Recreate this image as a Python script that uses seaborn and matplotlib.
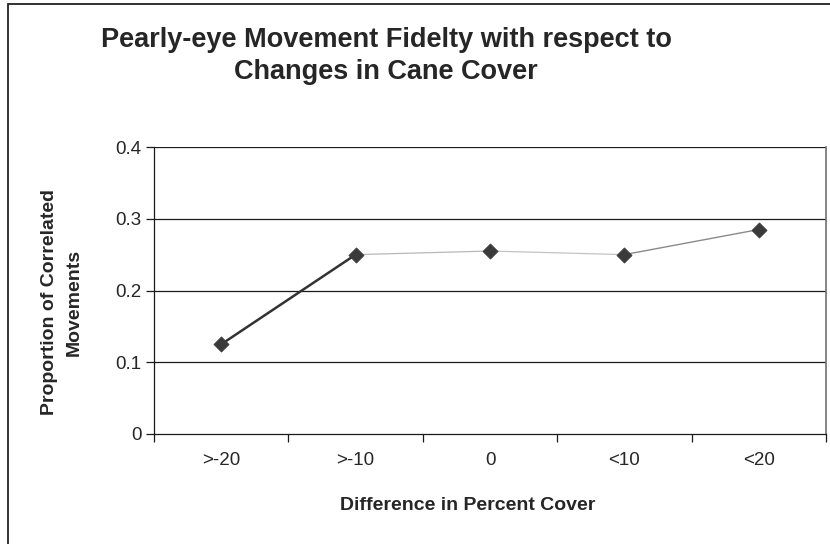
import matplotlib
matplotlib.use("Agg")
import matplotlib.pyplot as plt
from matplotlib.patches import Rectangle
import seaborn as sns
import pandas as pd

# Data
categories = [">-20", ">-10", "0", "<10", "<20"]
proportions = [0.125, 0.25, 0.255, 0.25, 0.285]
y_ticks = [0, 0.1, 0.2, 0.3, 0.4]

df = pd.DataFrame({"pos": range(len(categories)),
                   "cover": categories,
                   "prop": proportions})

sns.set_theme(style="white")
plt.rcParams["font.family"] = ["Liberation Sans", "DejaVu Sans"]

fig = plt.figure(figsize=(8.3, 5.44), dpi=100)
ax = fig.add_axes([154 / 830, 1 - 434 / 544, (826 - 154) / 830, (434 - 147) / 544])

# horizontal gridlines
for yv in y_ticks[1:]:
    ax.axhline(yv, color="#1a1a1a", lw=0.9, zorder=1)

# connecting segments, each styled on its own
seg_styles = [("#333333", 1.8), ("#b8b8b8", 0.9), ("#c4c4c4", 0.9), ("#8a8a8a", 1.0)]
for i, (col, lw) in enumerate(seg_styles):
    sns.lineplot(data=df.iloc[i:i + 2], x="pos", y="prop", color=col, lw=lw,
                 ax=ax, zorder=2, legend=False)

sns.scatterplot(data=df, x="pos", y="prop", marker="D", s=60, color="#3a3a3a",
                edgecolor="#3a3a3a", linewidth=0.5, ax=ax, zorder=3, legend=False)

ax.set_xlim(-0.5, len(categories) - 0.5)
ax.set_ylim(0, 0.4)
ax.set_yticks(y_ticks)
ax.set_yticklabels(["0", "0.1", "0.2", "0.3", "0.4"], fontsize=13.5)
ax.set_xticks(range(len(categories)))
ax.set_xticklabels(categories, fontsize=13.5)
ax.set_xticks([i - 0.5 for i in range(len(categories) + 1)], minor=True)
ax.tick_params(axis="x", which="major", length=0, pad=13)
ax.tick_params(axis="x", which="minor", length=6, width=0.9, color="#1a1a1a",
               direction="out", bottom=True)
ax.tick_params(axis="y", which="major", length=6, width=0.9, color="#1a1a1a",
               direction="out", left=True, pad=3)

for side in ["left", "bottom"]:
    ax.spines[side].set_color("#1a1a1a")
    ax.spines[side].set_linewidth(0.9)
ax.spines["right"].set_color("#707070")
ax.spines["right"].set_linewidth(1.2)
ax.spines["top"].set_visible(False)

ax.set_xlabel("")
ax.set_ylabel("")

fig.text(468 / 830, 1 - 505 / 544, "Difference in Percent Cover",
         ha="center", va="center", fontsize=14, fontweight="bold")
fig.text(62 / 830, 1 - 302 / 544, "Proportion of Correlated\nMovements",
         ha="center", va="center", rotation=90, fontsize=14, fontweight="bold",
         linespacing=1.6)
fig.text(386 / 830, 1 - 56 / 544,
         "Pearly-eye Movement Fidelty with respect to\nChanges in Cane Cover",
         ha="center", va="center", fontsize=19.5, fontweight="bold",
         linespacing=1.3)

# chart frame
fig.add_artist(Rectangle((8 / 830, -0.2), 2, 1 - 4 / 544 + 0.2, fill=False,
                         lw=1.3, edgecolor="#222222", transform=fig.transFigure,
                         clip_on=False))

fig.savefig("out.png", dpi=100)
